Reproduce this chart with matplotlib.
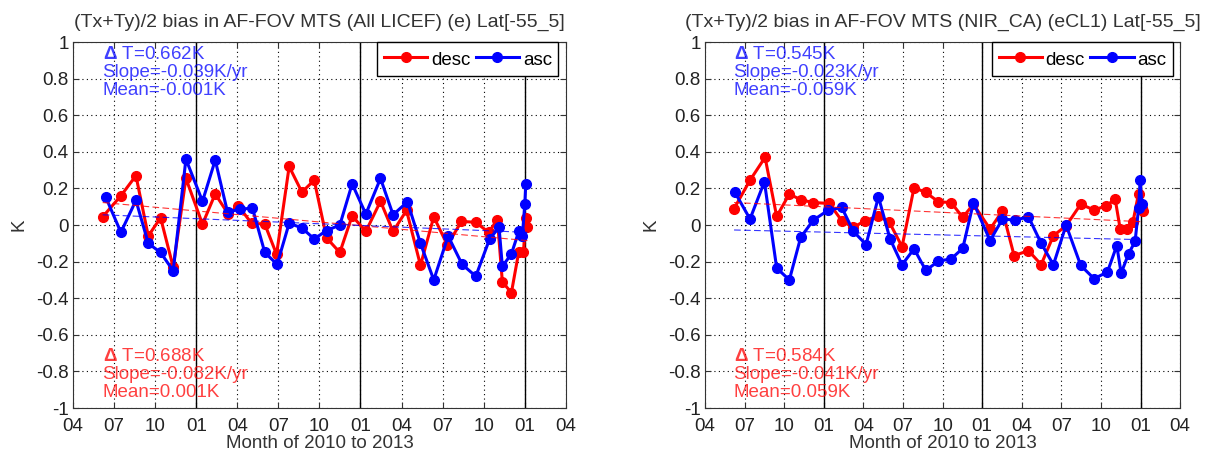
import matplotlib
matplotlib.use('agg')
import matplotlib.pyplot as plt
import numpy as np

plt.rcParams['font.family'] = ['Liberation Sans', 'DejaVu Sans']
plt.rcParams['mathtext.fontset'] = 'custom'
plt.rcParams['mathtext.bf'] = 'Liberation Sans:bold'

# x values: months since 2010-01 (2010-04 = 3)
# ---- left panel: All LICEF (e)
l_desc_x = [5.17, 6.50, 7.60, 8.50, 9.40, 10.32, 11.25, 12.46, 13.39, 14.34, 15.07, 16.04,
            17.01, 17.87, 18.79, 19.72, 20.62, 21.52, 22.49, 23.39, 24.39, 25.46, 26.38,
            27.36, 28.38, 29.35, 30.35, 31.37, 32.42, 33.36, 34.00, 34.36, 35.02, 35.55,
            35.90, 36.07, 36.19]
l_desc_y = [0.045, 0.16, 0.27, -0.06, 0.04, -0.23, 0.255, 0.005, 0.17, 0.06, 0.105, 0.01,
            0.005, -0.16, 0.32, 0.18, 0.245, -0.07, -0.15, 0.05, -0.035, 0.13, -0.035,
            0.08, -0.22, 0.045, -0.11, 0.02, 0.015, -0.04, 0.03, -0.31, -0.37, -0.15,
            -0.15, 0.04, -0.01]
l_asc_x = [5.38, 6.50, 7.60, 8.50, 9.40, 10.32, 11.25, 12.46, 13.39, 14.29, 15.19, 16.11,
           17.01, 17.91, 18.79, 19.72, 20.62, 21.52, 22.49, 23.39, 24.39, 25.46, 26.38,
           27.43, 28.38, 29.35, 30.40, 31.42, 32.42, 33.43, 34.12, 34.36, 35.02, 35.58,
           35.82, 36.00, 36.07]
l_asc_y = [0.155, -0.04, 0.135, -0.10, -0.15, -0.25, 0.36, 0.13, 0.355, 0.07, 0.087, 0.092,
           -0.15, -0.215, 0.01, -0.016, -0.076, -0.03, 0.0, 0.225, 0.06, 0.255, 0.056,
           0.127, -0.10, -0.30, -0.06, -0.215, -0.28, -0.076, -0.013, -0.226, -0.158,
           -0.03, -0.06, 0.114, 0.226]
l_desc_trend = [(5.17, 36.19), (0.123, -0.085)]
l_asc_trend = [(5.17, 36.19), (0.056, -0.04)]
l_asc_text = ['T=0.662K', 'Slope=-0.039K/yr', 'Mean=-0.001K']
l_desc_text = ['T=0.688K', 'Slope=-0.082K/yr', 'Mean=0.001K']
l_title = '(Tx+Ty)/2 bias in AF-FOV MTS (All LICEF) (e) Lat[-55_5]'

# ---- right panel: NIR_CA (eCL1)
r_desc_x = [5.20, 6.41, 7.55, 8.43, 9.39, 10.25, 11.21, 12.42, 13.36, 14.24, 15.13, 16.14,
            16.97, 17.93, 18.84, 19.73, 20.69, 21.65, 22.53, 23.34, 24.60, 25.54, 26.42,
            27.51, 28.47, 29.40, 30.36, 31.47, 32.48, 33.39, 34.08, 34.46, 34.96, 35.42,
            35.85, 36.10, 36.17]
r_desc_y = [0.09, 0.245, 0.37, 0.047, 0.17, 0.138, 0.123, 0.118, 0.024, -0.013, 0.024, 0.05,
            0.015, -0.118, 0.205, 0.178, 0.127, 0.123, 0.042, 0.114, -0.022, 0.078, -0.167,
            -0.14, -0.216, -0.058, -0.004, 0.114, 0.082, 0.105, 0.141, -0.022, -0.022,
            0.015, 0.172, 0.092, 0.078]
r_asc_x = [5.27, 6.41, 7.50, 8.43, 9.39, 10.25, 11.21, 12.35, 13.36, 14.24, 15.20, 16.14,
           17.02, 17.93, 18.84, 19.73, 20.69, 21.65, 22.53, 23.34, 24.60, 25.54, 26.50,
           27.51, 28.47, 29.40, 30.36, 31.47, 32.48, 33.49, 34.20, 34.53, 35.09, 35.59,
           35.85, 35.97, 36.10]
r_asc_y = [0.178, 0.033, 0.237, -0.235, -0.30, -0.067, 0.027, 0.082, 0.096, -0.034, -0.107,
           0.154, -0.076, -0.217, -0.13, -0.248, -0.197, -0.185, -0.127, 0.123, -0.085,
           0.033, 0.027, 0.045, -0.10, -0.217, 0.0, -0.221, -0.293, -0.257, -0.112,
           -0.263, -0.158, -0.089, 0.092, 0.245, 0.114]
r_desc_trend = [(5.20, 36.17), (0.123, 0.018)]
r_asc_trend = [(5.20, 36.17), (-0.027, -0.08)]
r_asc_text = ['T=0.545K', 'Slope=-0.023K/yr', 'Mean=-0.059K']
r_desc_text = ['T=0.584K', 'Slope=-0.041K/yr', 'Mean=0.059K']
r_title = '(Tx+Ty)/2 bias in AF-FOV MTS (NIR_CA) (eCL1) Lat[-55_5]'

x_ticks = np.arange(3, 40, 3)
x_ticklabels = ['04', '07', '10', '01', '04', '07', '10', '01', '04', '07', '10', '01', '04']
y_ticks = np.round(np.arange(-1, 1.01, 0.2), 1)
y_ticklabels = ['-1', '-0.8', '-0.6', '-0.4', '-0.2', '0', '0.2', '0.4', '0.6', '0.8', '1']
year_lines = [12, 24, 36]

fs = 13.5
fig = plt.figure(figsize=(12.12, 4.54), dpi=100)
ax_l = fig.add_axes([0.0602, 0.1013, 0.4067, 0.806])
ax_r = fig.add_axes([0.5817, 0.1013, 0.392, 0.806])


def draw_panel(ax, dx, dy, ax_, ay, dtr, atr, atext, dtext, title):
    ax.plot(dx, dy, '-o', color='r', lw=2.2, ms=7, mec='r', label='desc', zorder=3)
    ax.plot(ax_, ay, '-o', color='b', lw=2.2, ms=7, mec='b', label='asc', zorder=4)
    ax.plot(dtr[0], dtr[1], '--', color='r', lw=0.8, dashes=(6, 3), alpha=0.8, zorder=5)
    ax.plot(atr[0], atr[1], '--', color='b', lw=0.8, dashes=(6, 3), alpha=0.8, zorder=5)
    for xl in year_lines:
        ax.axvline(xl, color='k', lw=1.0, zorder=2)
    ax.set_xlim(3, 39)
    ax.set_ylim(-1, 1)
    ax.set_xticks(x_ticks)
    ax.set_xticklabels(x_ticklabels)
    ax.set_yticks(y_ticks)
    ax.set_yticklabels(y_ticklabels)
    ax.grid(True, ls=(0, (1, 3)), color='k', lw=0.8)
    ax.tick_params(direction='in', top=True, right=True, labelsize=fs, length=4, pad=3,
                   colors='#333333', labelcolor='#222222')
    ax.tick_params(axis='x', pad=7)
    for sp in ax.spines.values():
        sp.set_color('#333333')
    ax.set_title(title, fontsize=14, color='#333333', pad=11)
    ax.set_xlabel('Month of 2010 to 2013', fontsize=fs, color='#333333')
    ax.xaxis.set_label_coords(0.5, -0.073)
    ax.set_ylabel('K', fontsize=fs, color='#333333', labelpad=6)
    ax.text(0.06, 0.99, r'$\mathbf{\Delta}$ ' + atext[0] + '\n' + atext[1] + '\n' + atext[2],
            transform=ax.transAxes, color='b', fontsize=fs, va='top', ha='left',
            linespacing=1.08, alpha=0.75)
    ax.text(0.06, 0.165, r'$\mathbf{\Delta}$ ' + dtext[0] + '\n' + dtext[1] + '\n' + dtext[2],
            transform=ax.transAxes, color='r', fontsize=fs, va='top', ha='left',
            linespacing=1.08, alpha=0.75)
    leg = ax.legend(loc='upper right', ncol=2, fontsize=fs, fancybox=False,
                    edgecolor='k', framealpha=1, borderpad=0.35, handlelength=2.3,
                    handleheight=1.3, columnspacing=0.3, handletextpad=0.2,
                    borderaxespad=0.0, bbox_to_anchor=(0.985, 1.0))
    leg.get_frame().set_linewidth(1.0)


draw_panel(ax_l, l_desc_x, l_desc_y, l_asc_x, l_asc_y, l_desc_trend, l_asc_trend,
           l_asc_text, l_desc_text, l_title)
draw_panel(ax_r, r_desc_x, r_desc_y, r_asc_x, r_asc_y, r_desc_trend, r_asc_trend,
           r_asc_text, r_desc_text, r_title)

fig.savefig('out.png', dpi=100)
plt.close()
